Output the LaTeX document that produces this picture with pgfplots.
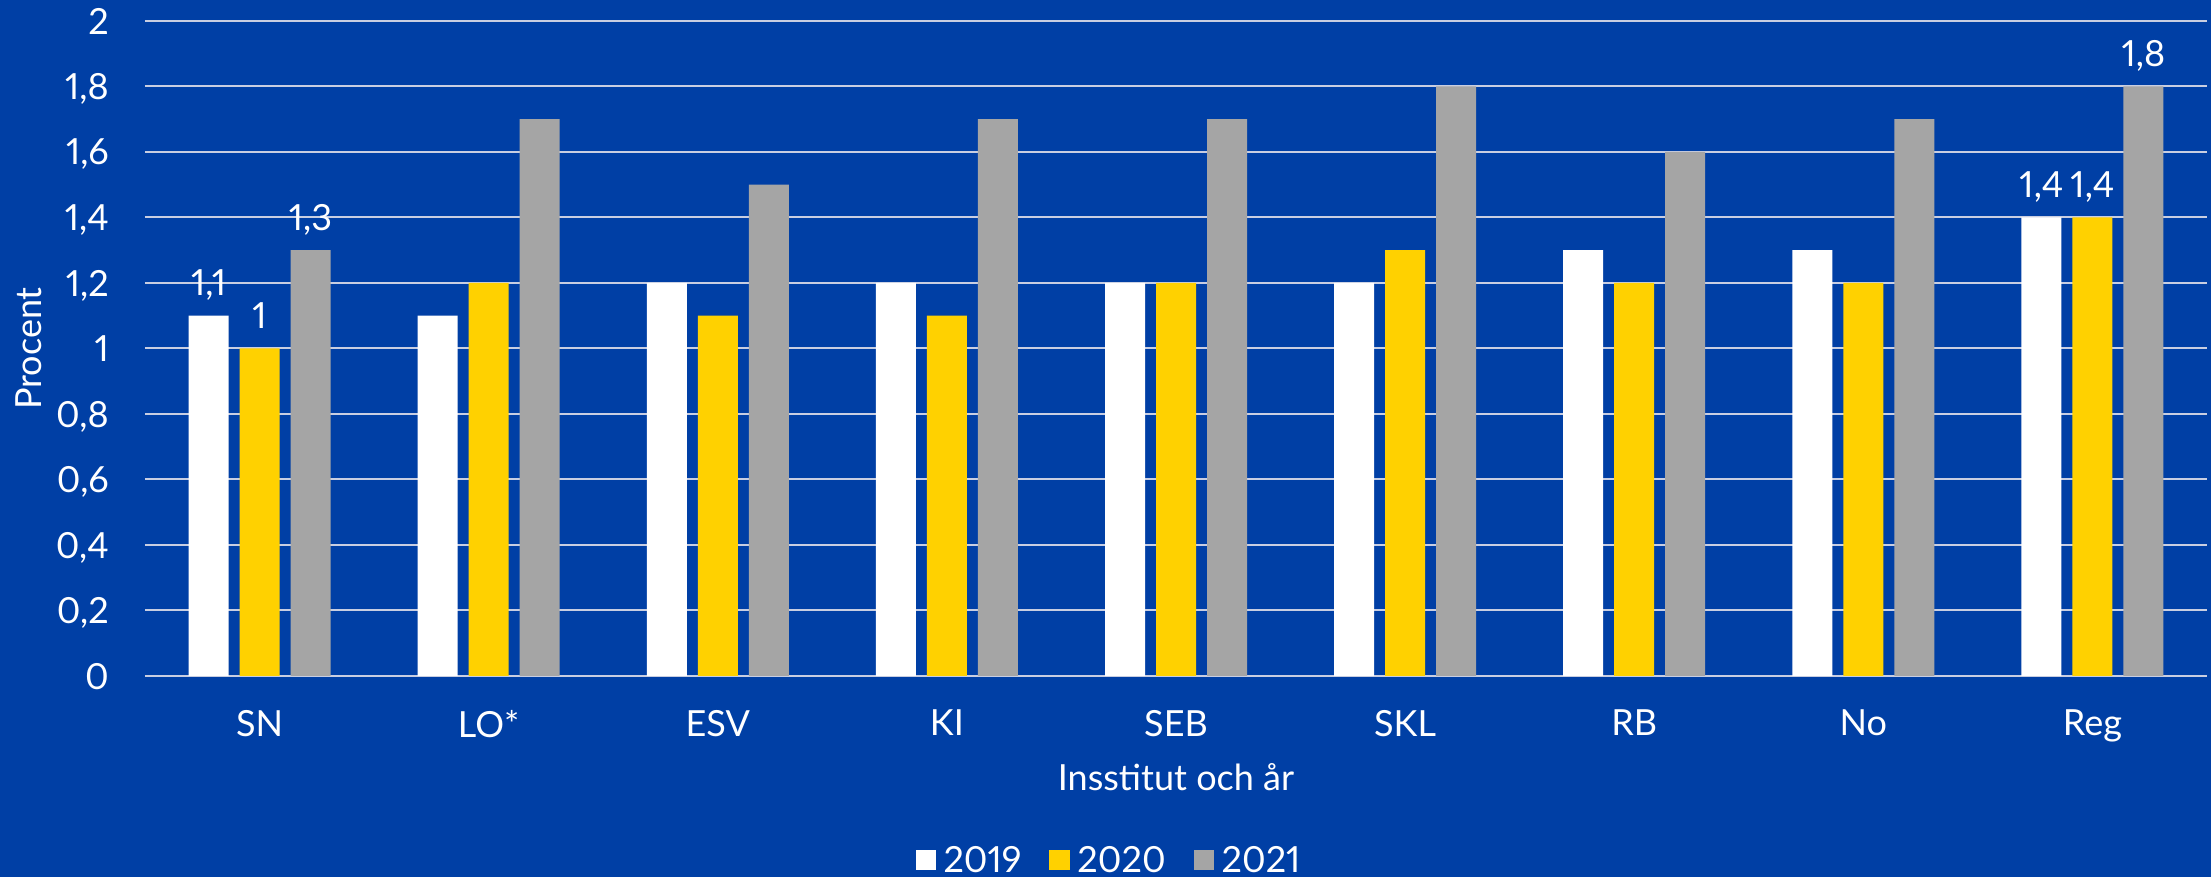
\documentclass[border=0pt]{standalone}
\usepackage{fontspec}
\setmainfont{Lato}[Numbers=Proportional]
\usepackage{pgfplots}
\pgfplotsset{compat=1.18}
\usetikzlibrary{backgrounds}
\definecolor{bg}{RGB}{0,63,165}
\definecolor{cA}{RGB}{255,255,255}
\definecolor{cB}{RGB}{255,209,0}
\definecolor{cC}{RGB}{165,165,165}
\definecolor{gridc}{RGB}{200,206,226}
\begin{document}
\begin{tikzpicture}[font=\fontsize{36}{43}\selectfont]
\begin{axis}[name=ax, scale only axis, width=2062pt, height=655pt,
  ybar=11pt, bar width=40pt,
  xmin=-0.5, xmax=8.5, ymin=0, ymax=2,
  xtick={0,...,8}, xticklabels={SN,LO*,ESV,KI,SEB,SKL,RB,No,Reg},
  ytick={0,0.2,0.4,0.6,0.8,1,1.2,1.4,1.6,1.8,2},
  yticklabel={\pgfmathprintnumber[fixed,precision=1,use comma,assume math mode=true]{\tick}},
  axis line style={draw=none},
  major tick length=0pt,
  ymajorgrids, grid style={gridc, line width=2pt},
  tick label style={text=white},
  yticklabel style={anchor=east, inner sep=0pt, text depth=0pt, xshift=-36pt},
  xticklabel style={anchor=north, inner sep=0pt, text depth=0pt, yshift=-34pt},
  xlabel={Insstitut och år},
  ylabel={Procent},
  xlabel style={at={(axis description cs:0.5,0)}, anchor=base, inner sep=0pt, text=white, yshift=-114pt},
  ylabel style={at={(axis description cs:-0.04995,0.5)}, anchor=base, inner sep=0pt, text=white},
  point meta=explicit symbolic,
  nodes near coords={\pgfplotspointmeta},
  nodes near coords style={text=white, inner sep=0pt, text depth=0pt, anchor=south, yshift=20pt},
  legend style={at={(axis description cs:0.467,-0.2794)}, anchor=center, draw=none, fill=none,
    /tikz/every odd column/.append style={column sep=8pt},
    /tikz/every even column/.append style={column sep=28pt},
    nodes={inner sep=0pt, text=white, text depth=0pt}},
  legend columns=3,
  legend image code/.code={\fill[#1] (0pt,-11pt) rectangle (20pt,9pt);},
]
\addplot[fill=cA, draw=none] coordinates {
 (0,1.1) [1,1] (1,1.1) [] (2,1.2) [] (3,1.2) [] (4,1.2) [] (5,1.2) [] (6,1.3) [] (7,1.3) [] (8,1.4) [1,4]};
\addplot[fill=cB, draw=none] coordinates {
 (0,1.0) [1] (1,1.2) [] (2,1.1) [] (3,1.1) [] (4,1.2) [] (5,1.3) [] (6,1.2) [] (7,1.2) [] (8,1.4) [1,4]};
\addplot[fill=cC, draw=none] coordinates {
 (0,1.3) [1,3] (1,1.7) [] (2,1.5) [] (3,1.7) [] (4,1.7) [] (5,1.8) [] (6,1.6) [] (7,1.7) [] (8,1.8) [1,8]};
\legend{2019,2020,2021}
\end{axis}
\begin{scope}[on background layer]
\fill[bg] ([xshift=-145pt,yshift=-201pt]ax.south west) rectangle ([xshift=4pt,yshift=21pt]ax.north east);
\end{scope}
\pgfresetboundingbox
\path[use as bounding box] ([xshift=-145pt,yshift=-201pt]ax.south west) rectangle ([xshift=4pt,yshift=21pt]ax.north east);
\end{tikzpicture}
\end{document}
